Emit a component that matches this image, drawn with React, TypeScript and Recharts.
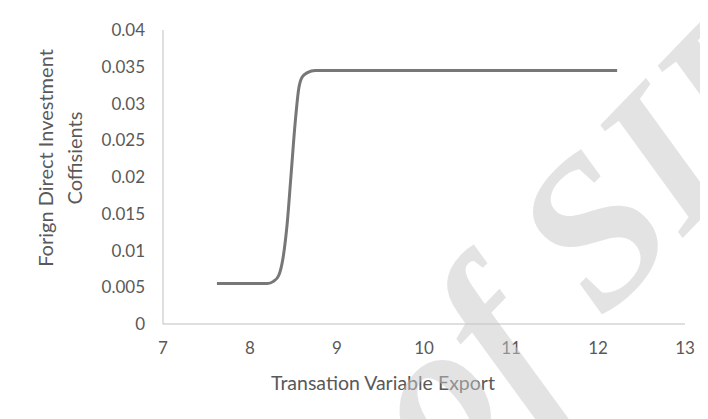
import { LineChart, Line, XAxis, YAxis, Label } from 'recharts'

// values
const exportValues = [7.62, 8.0, 8.2, 8.27, 8.33, 8.38, 8.43, 8.47, 8.52, 8.56, 8.6, 8.66, 8.75, 9.5, 12.22]
const fdiCoefficients = [0.0055, 0.0055, 0.0055, 0.0058, 0.0066, 0.009, 0.014, 0.02, 0.0275, 0.032, 0.0336, 0.0342, 0.0345, 0.0345, 0.0345]
const xTicks = [7, 8, 9, 10, 11, 12, 13]
const yTicks = [0, 0.005, 0.01, 0.015, 0.02, 0.025, 0.03, 0.035, 0.04]

const data = exportValues.map((x, i) => ({ x, y: fdiCoefficients[i] }))

const FONT = 'Lato, "Open Sans", sans-serif'
const TEXT = '#595959'
const AXIS = '#bfbfbf'

const YTitle = ({ viewBox }: any) => {
  const cy = viewBox.y + 128
  return (
    <g fill={TEXT} fontFamily={FONT} fontSize={20}>
      <text x={viewBox.x + 45} y={cy} textAnchor="middle" transform={`rotate(-90 ${viewBox.x + 45} ${cy})`}>
        Forign Direct Investment
      </text>
      <text x={viewBox.x + 74} y={cy} textAnchor="middle" transform={`rotate(-90 ${viewBox.x + 74} ${cy})`}>
        Coffisients
      </text>
    </g>
  )
}

const XTitle = ({ viewBox }: any) => (
  <text x={viewBox.x + 220} y={viewBox.y + 66} textAnchor="middle" fill={TEXT} fontFamily={FONT} fontSize={19.5}>
    Transation Variable Export
  </text>
)

export default function App() {
  return (
    <div style={{
      position: 'relative', width: 701, height: 412, marginLeft: -2, marginTop: -2,
      borderTop: '2px solid #dedede', borderLeft: '2px solid #dedede', background: '#fff', overflow: 'hidden',
    }}>
      <LineChart width={700} height={411} data={data} margin={{ top: 22, right: 23, bottom: 35, left: 0 }}>
        <XAxis dataKey="x" type="number" domain={[7, 13]} ticks={xTicks} height={60}
          tick={{ fontSize: 17, fill: TEXT, fontFamily: FONT }} tickLine={false} tickMargin={12}
          axisLine={{ stroke: AXIS }}>
          <Label content={<XTitle />} />
        </XAxis>
        <YAxis dataKey="y" type="number" domain={[0, 0.04]} ticks={yTicks} width={155}
          tick={{ fontSize: 17, fill: TEXT, fontFamily: FONT }} tickLine={false} tickMargin={12}
          axisLine={{ stroke: AXIS }}>
          <Label content={<YTitle />} />
        </YAxis>
        <Line type="monotone" dataKey="y" stroke="#777777" strokeWidth={3} dot={false} isAnimationActive={false} />
      </LineChart>
      {/* watermark over the chart, as in the scanned source */}
      <svg width={701} height={412} style={{ position: 'absolute', left: 0, top: 0, pointerEvents: 'none' }}>
        <text x={0} y={0} transform="translate(437 476) rotate(-46)" fontFamily='"Liberation Serif", serif'
          fontStyle="italic" fontWeight="bold" fontSize={210} fill="#c8c8c8" fillOpacity={0.5}>
          of SID
        </text>
      </svg>
    </div>
  )
}
